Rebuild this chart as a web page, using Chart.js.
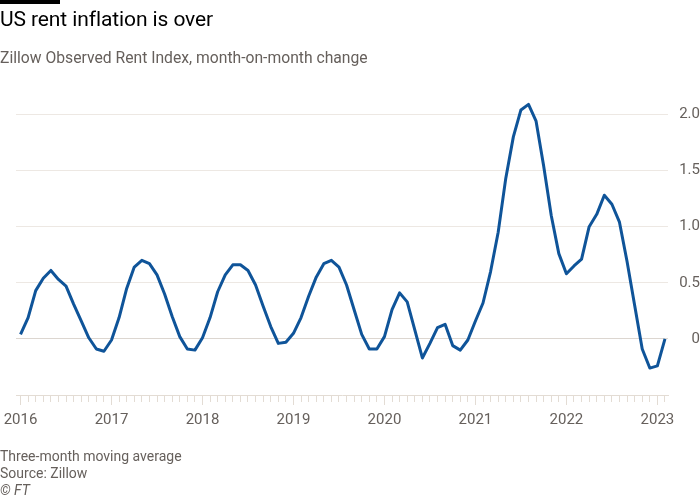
<!DOCTYPE html>
<html>
<head>
<meta charset="utf-8">
<script src="https://cdn.jsdelivr.net/npm/chart.js@4.4.1/dist/chart.umd.min.js"></script>
<style>
  html, body { margin: 0; padding: 0; background: #fff; }
  #wrap { position: relative; width: 700px; height: 500px; overflow: hidden; font-family: Roboto, "Noto Sans", sans-serif; }
  #bar { position: absolute; left: 0; top: 0; width: 60px; height: 4px; background: #000; }
  #title { position: absolute; left: 0; top: 7px; font-size: 21px; color: #000; white-space: nowrap; letter-spacing: -0.1px; }
  #subtitle { position: absolute; left: 0; top: 48px; font-size: 15.7px; color: #66605c; white-space: nowrap; }
  #footer { position: absolute; left: 0; top: 448px; font-size: 14px; line-height: 17px; color: #66605c; white-space: nowrap; }
  #footer i { font-style: italic; }
  canvas { position: absolute; left: 0; top: 0; }
</style>
</head>
<body>
<div id="wrap">
  <canvas id="c" width="700" height="500"></canvas>
  <div id="bar"></div>
  <div id="title">US rent inflation is over</div>
  <div id="subtitle">Zillow Observed Rent Index, month-on-month change</div>
  <div id="footer">Three-month moving average<br>Source: Zillow<br><i>© FT</i></div>
</div>
<script>
// Monthly periods, Jan 2016 – Feb 2023
const startYear = 2016;
const months = [
  '2016-01','2016-02','2016-03','2016-04','2016-05','2016-06','2016-07','2016-08','2016-09','2016-10','2016-11','2016-12',
  '2017-01','2017-02','2017-03','2017-04','2017-05','2017-06','2017-07','2017-08','2017-09','2017-10','2017-11','2017-12',
  '2018-01','2018-02','2018-03','2018-04','2018-05','2018-06','2018-07','2018-08','2018-09','2018-10','2018-11','2018-12',
  '2019-01','2019-02','2019-03','2019-04','2019-05','2019-06','2019-07','2019-08','2019-09','2019-10','2019-11','2019-12',
  '2020-01','2020-02','2020-03','2020-04','2020-05','2020-06','2020-07','2020-08','2020-09','2020-10','2020-11','2020-12',
  '2021-01','2021-02','2021-03','2021-04','2021-05','2021-06','2021-07','2021-08','2021-09','2021-10','2021-11','2021-12',
  '2022-01','2022-02','2022-03','2022-04','2022-05','2022-06','2022-07','2022-08','2022-09','2022-10','2022-11','2022-12',
  '2023-01','2023-02'
];
// Zillow Observed Rent Index, m/m % change (3-month moving average)
const rentChange = [
  0.04, 0.19, 0.43, 0.54, 0.61, 0.53, 0.47, 0.31, 0.16, 0.01, -0.09, -0.11,
  -0.01, 0.19, 0.45, 0.64, 0.70, 0.67, 0.57, 0.40, 0.20, 0.02, -0.09, -0.10,
  0.01, 0.19, 0.42, 0.57, 0.66, 0.66, 0.61, 0.48, 0.29, 0.11, -0.04, -0.03,
  0.05, 0.19, 0.38, 0.55, 0.67, 0.70, 0.64, 0.48, 0.26, 0.04, -0.09, -0.09,
  0.02, 0.26, 0.41, 0.33, 0.08, -0.17, -0.04, 0.10, 0.13, -0.06, -0.10, -0.01,
  0.16, 0.32, 0.60, 0.95, 1.43, 1.80, 2.04, 2.09, 1.94, 1.54, 1.10, 0.76,
  0.58, 0.65, 0.71, 1.00, 1.11, 1.28, 1.20, 1.04, 0.69, 0.30, -0.09, -0.26,
  -0.24, 0.00
];
const yTicks = [0, 0.5, 1.0, 1.5, 2.0];
const yearLabels = ['2016','2017','2018','2019','2020','2021','2022','2023'];

const points = months.map((m, i) => ({ x: i, y: rentChange[i] }));

new Chart(document.getElementById('c'), {
  type: 'line',
  data: {
    datasets: [{
      data: points,
      borderColor: '#0f5499',
      borderWidth: 3,
      pointRadius: 0,
      tension: 0,
      borderJoinStyle: 'round',
      borderCapStyle: 'butt'
    }]
  },
  options: {
    responsive: false,
    animation: false,
    layout: { padding: { left: 16, top: 92, right: 0, bottom: 0 } },
    plugins: { legend: { display: false }, tooltip: { enabled: false } },
    scales: {
      x: {
        type: 'linear',
        min: -0.6,
        max: 85.4,
        afterBuildTicks: (s) => { s.ticks = months.map((m, i) => ({ value: i })); },
        afterFit: (s) => { s.height = 105; s.paddingLeft = 0; s.paddingRight = 0; },
        border: { display: true, color: '#e3dcd4', width: 1 },
        grid: {
          drawOnChartArea: false,
          drawTicks: true,
          tickLength: 10,
          tickColor: '#e3dcd4',
          tickBorderDash: (ctx) => (ctx.tick && ctx.tick.value % 12 === 0) ? [] : [6, 100]
        },
        ticks: {
          autoSkip: false,
          maxRotation: 0,
          padding: 6,
          color: '#66605c',
          font: { family: 'Roboto', size: 15 },
          callback: (v) => (v % 12 === 0) ? yearLabels[v / 12] : ''
        }
      },
      y: {
        position: 'right',
        min: -0.5,
        max: 2.2,
        afterBuildTicks: (s) => { s.ticks = yTicks.map(v => ({ value: v })); },
        afterFit: (s) => { s.width = 32; },
        border: { display: false },
        grid: {
          drawTicks: false,
          color: (ctx) => (ctx.tick && ctx.tick.value === 0) ? '#dcd6d0' : '#ede8e3',
          lineWidth: 1
        },
        ticks: {
          crossAlign: 'far',
          padding: 6,
          color: '#66605c',
          font: { family: 'Roboto', size: 15 },
          callback: (v) => v === 0 ? '0' : v.toFixed(1)
        }
      }
    }
  }
});
</script>
</body>
</html>
